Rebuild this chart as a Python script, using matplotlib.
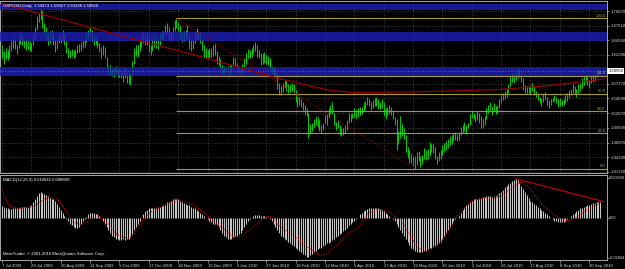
import numpy as np
import matplotlib
matplotlib.use("Agg")
import matplotlib.pyplot as plt

plt.rcParams['font.family'] = ['Liberation Sans', 'DejaVu Sans']

# ---------------- data ----------------
title = "GBPUSD,Daily  1.59473 1.59627 1.59138 1.59550"
macd_title = "MACD(12,26,9) 0.010042 0.008899"
copyright_txt = "MetaTrader, \u00a9 2001-2010 MetaQuotes Software Corp."

date_ticks = list(range(0, 321, 16))
date_labels = ["7 Jul 2009", "29 Jul 2009", "20 Aug 2009", "11 Sep 2009", "5 Oct 2009",
               "27 Oct 2009", "18 Nov 2009", "10 Dec 2009", "5 Jan 2010", "27 Jan 2010",
               "18 Feb 2010", "12 Mar 2010", "5 Apr 2010", "27 Apr 2010", "19 May 2010",
               "10 Jun 2010", "2 Jul 2010", "26 Jul 2010", "17 Aug 2010", "8 Sep 2010",
               "30 Sep 2010"]

price_ticks = [1.70070, 1.67510, 1.64950, 1.62390, 1.59830, 1.57270,
               1.54680, 1.52070, 1.49500, 1.46870, 1.44300, 1.41750]
price_labels = ["1.70070", "1.67510", "1.64950", "1.62390", "", "1.57270",
                "1.54680", "1.52070", "1.49500", "1.46870", "1.44300", "1.41750"]
bid_price = 1.59550
bid_label = "1.59550"

macd_ticks = [0.026599, 0.0, -0.026644]
macd_labels = ["0.026599", "0.00", "-0.02664"]

# daily bar highs / lows (one row per week)
high = [
    1.640, 1.630, 1.636, 1.632,
    1.640, 1.648, 1.652, 1.651, 1.640,
    1.652, 1.662, 1.656, 1.650, 1.650,
    1.650, 1.648, 1.645, 1.660, 1.672,
    1.692, 1.698, 1.704, 1.700, 1.680,
    1.672, 1.662, 1.665, 1.668, 1.660,
    1.650, 1.650, 1.660, 1.660, 1.668,
    1.660, 1.648, 1.636, 1.632, 1.634,
    1.632, 1.634, 1.640, 1.642, 1.646,
    1.650, 1.652, 1.662, 1.668, 1.672,
    1.668, 1.656, 1.655, 1.650, 1.644,
    1.638, 1.640, 1.638, 1.620, 1.604,
    1.605, 1.598, 1.600, 1.604, 1.598,
    1.600, 1.596, 1.594, 1.600, 1.592,
    1.592, 1.590, 1.612, 1.636, 1.640,
    1.640, 1.648, 1.658, 1.664, 1.660,
    1.664, 1.656, 1.640, 1.652, 1.656,
    1.654, 1.650, 1.662, 1.666, 1.666,
    1.676, 1.680, 1.672, 1.664, 1.672,
    1.684, 1.688, 1.682, 1.676, 1.664,
    1.666, 1.668, 1.676, 1.660, 1.650,
    1.650, 1.664, 1.670, 1.666, 1.664,
    1.650, 1.640, 1.636, 1.632, 1.636,
    1.636, 1.640, 1.642, 1.630, 1.622,
    1.616, 1.606, 1.604, 1.602,
    1.604, 1.606, 1.608, 1.620,
    1.618, 1.610, 1.604, 1.600, 1.608,
    1.618, 1.626, 1.634, 1.632, 1.636,
    1.640, 1.646, 1.640, 1.632, 1.626,
    1.626, 1.628, 1.624, 1.622, 1.618,
    1.604, 1.602, 1.602, 1.590, 1.574,
    1.568, 1.574, 1.580, 1.578, 1.572,
    1.572, 1.574, 1.572, 1.562, 1.550,
    1.550, 1.546, 1.540, 1.536, 1.530,
    1.522, 1.502, 1.504, 1.510, 1.516,
    1.514, 1.508, 1.500, 1.504, 1.518,
    1.520, 1.530, 1.536, 1.540, 1.522,
    1.506, 1.508, 1.500, 1.494, 1.494,
    1.500, 1.508, 1.522, 1.520, 1.522,
    1.530, 1.526, 1.530, 1.532, 1.532,
    1.540, 1.542, 1.550, 1.546, 1.540,
    1.544, 1.548, 1.550, 1.546, 1.540,
    1.546, 1.540, 1.530, 1.532, 1.536,
    1.532, 1.526, 1.514, 1.510, 1.490,
    1.516, 1.502, 1.494, 1.482, 1.462,
    1.456, 1.450, 1.446, 1.446, 1.452,
    1.454, 1.446, 1.448, 1.460, 1.456,
    1.458, 1.470, 1.466, 1.466, 1.462,
    1.446, 1.452, 1.456, 1.464, 1.468,
    1.472, 1.476, 1.480, 1.482, 1.486,
    1.488, 1.484, 1.488, 1.496, 1.500,
    1.506, 1.500, 1.504, 1.520, 1.524,
    1.522, 1.518, 1.524, 1.522, 1.516,
    1.510, 1.516, 1.530, 1.536, 1.540,
    1.534, 1.538, 1.534, 1.536, 1.546,
    1.552, 1.556, 1.560, 1.564, 1.572,
    1.586, 1.592, 1.590, 1.592, 1.598,
    1.600, 1.594, 1.582, 1.570, 1.568,
    1.568, 1.568, 1.574, 1.568, 1.560,
    1.556, 1.550, 1.548, 1.554, 1.558,
    1.550, 1.544, 1.546, 1.548, 1.552,
    1.550, 1.546, 1.548, 1.544, 1.546,
    1.552, 1.556, 1.562, 1.564, 1.572,
    1.568, 1.564, 1.572, 1.574, 1.582,
    1.586, 1.590, 1.584, 1.580, 1.588,
    1.588, 1.590, 1.596, 1.598, 1.596,
]
low = [
    1.618, 1.608, 1.616, 1.614,
    1.618, 1.630, 1.636, 1.634, 1.625,
    1.635, 1.643, 1.640, 1.635, 1.632,
    1.634, 1.630, 1.630, 1.640, 1.650,
    1.668, 1.682, 1.684, 1.670, 1.660,
    1.650, 1.640, 1.645, 1.650, 1.640,
    1.628, 1.634, 1.645, 1.645, 1.648,
    1.640, 1.626, 1.618, 1.620, 1.622,
    1.618, 1.620, 1.626, 1.628, 1.630,
    1.636, 1.638, 1.646, 1.652, 1.656,
    1.648, 1.640, 1.640, 1.636, 1.628,
    1.618, 1.624, 1.618, 1.596, 1.588,
    1.588, 1.586, 1.585, 1.590, 1.584,
    1.584, 1.582, 1.576, 1.582, 1.574,
    1.572, 1.570, 1.586, 1.608, 1.622,
    1.620, 1.630, 1.638, 1.644, 1.640,
    1.640, 1.628, 1.624, 1.630, 1.638,
    1.636, 1.634, 1.640, 1.650, 1.652,
    1.660, 1.662, 1.652, 1.648, 1.654,
    1.666, 1.670, 1.666, 1.654, 1.646,
    1.648, 1.652, 1.656, 1.634, 1.630,
    1.634, 1.644, 1.654, 1.650, 1.644,
    1.632, 1.620, 1.618, 1.620, 1.618,
    1.620, 1.622, 1.624, 1.608, 1.606,
    1.598, 1.590, 1.592, 1.594,
    1.592, 1.588, 1.594, 1.604,
    1.604, 1.594, 1.592, 1.588, 1.590,
    1.602, 1.608, 1.618, 1.618, 1.620,
    1.626, 1.630, 1.620, 1.618, 1.606,
    1.608, 1.610, 1.608, 1.606, 1.596,
    1.590, 1.588, 1.582, 1.564, 1.552,
    1.552, 1.558, 1.566, 1.560, 1.556,
    1.558, 1.560, 1.556, 1.540, 1.532,
    1.536, 1.532, 1.526, 1.518, 1.516,
    1.478, 1.486, 1.490, 1.496, 1.500,
    1.496, 1.490, 1.486, 1.492, 1.504,
    1.500, 1.512, 1.520, 1.520, 1.500,
    1.492, 1.494, 1.482, 1.480, 1.482,
    1.486, 1.492, 1.504, 1.506, 1.512,
    1.514, 1.510, 1.514, 1.518, 1.520,
    1.524, 1.528, 1.536, 1.534, 1.526,
    1.530, 1.534, 1.534, 1.528, 1.528,
    1.530, 1.516, 1.510, 1.516, 1.520,
    1.518, 1.510, 1.500, 1.456, 1.466,
    1.478, 1.480, 1.476, 1.452, 1.442,
    1.434, 1.434, 1.428, 1.423, 1.430,
    1.436, 1.426, 1.432, 1.440, 1.438,
    1.440, 1.448, 1.452, 1.450, 1.440,
    1.432, 1.436, 1.440, 1.448, 1.452,
    1.456, 1.460, 1.464, 1.466, 1.474,
    1.474, 1.472, 1.474, 1.482, 1.486,
    1.490, 1.484, 1.494, 1.500, 1.512,
    1.510, 1.506, 1.508, 1.504, 1.494,
    1.494, 1.500, 1.510, 1.522, 1.526,
    1.518, 1.524, 1.520, 1.522, 1.530,
    1.538, 1.544, 1.546, 1.550, 1.556,
    1.568, 1.576, 1.574, 1.580, 1.582,
    1.586, 1.576, 1.562, 1.556, 1.556,
    1.556, 1.554, 1.560, 1.552, 1.550,
    1.544, 1.538, 1.534, 1.540, 1.544,
    1.536, 1.530, 1.536, 1.540, 1.542,
    1.538, 1.532, 1.534, 1.534, 1.536,
    1.538, 1.542, 1.548, 1.552, 1.556,
    1.554, 1.550, 1.556, 1.560, 1.566,
    1.570, 1.576, 1.570, 1.566, 1.574,
    1.576, 1.578, 1.584, 1.588, 1.591,
]

macd = [
    0.0075, 0.007, 0.006, 0.006, 0.0055, 0.0055, 0.006, 0.006, 0.006, 0.0062,
    0.0065, 0.007, 0.0072, 0.0073, 0.0073, 0.0075, 0.008, 0.010, 0.012, 0.014,
    0.016, 0.017, 0.0165, 0.0155, 0.015, 0.014, 0.013, 0.0125, 0.012, 0.011,
    0.009, 0.007, 0.005, 0.003, 0.001, -0.001, -0.002, -0.004, -0.005, -0.006,
    -0.007, -0.007, -0.006, -0.004, -0.002, -0.001, 0.0005, 0.002, 0.003, 0.003,
    0.003, 0.0025, 0.002, 0.001, 0.000, -0.002, -0.004, -0.006, -0.008, -0.010,
    -0.012, -0.013, -0.014, -0.0145, -0.015, -0.015, -0.0145, -0.015, -0.0145, -0.014,
    -0.013, -0.011, -0.008, -0.006, -0.004, -0.002, 0.000, 0.002, 0.004, 0.005,
    0.006, 0.0065, 0.006, 0.006, 0.0065, 0.007, 0.007, 0.0075, 0.008, 0.009,
    0.010, 0.0105, 0.011, 0.012, 0.0125, 0.0125, 0.012, 0.011, 0.010, 0.0095,
    0.009, 0.0085, 0.008, 0.007, 0.0065, 0.006, 0.005, 0.004, 0.003, 0.002,
    0.001, 0.000, -0.001, -0.002, -0.003, -0.004, -0.004, -0.005, -0.006, -0.008,
    -0.010, -0.012, -0.013, -0.014, -0.0145, -0.014, -0.013, -0.012, -0.012, -0.011,
    -0.010, -0.008, -0.006, -0.004, -0.002, -0.001, 0.000, 0.001, 0.0015, 0.0015,
    0.0015, 0.001, 0.001, 0.001, 0.0005, 0.000, -0.001, -0.002, -0.004, -0.006,
    -0.008, -0.010, -0.012, -0.013, -0.014, -0.015, -0.016, -0.017, -0.018, -0.019,
    -0.020, -0.021, -0.022, -0.023, -0.024, -0.025, -0.026, -0.026, -0.025, -0.024,
    -0.023, -0.022, -0.021, -0.020, -0.020, -0.019, -0.018, -0.017, -0.017, -0.016,
    -0.015, -0.014, -0.013, -0.012, -0.011, -0.010, -0.009, -0.008, -0.007, -0.005,
    -0.004, -0.003, -0.002, -0.001, 0.000, 0.002, 0.003, 0.004, 0.005, 0.0055,
    0.006, 0.0065, 0.0065, 0.0065, 0.006, 0.006, 0.0055, 0.005, 0.004, 0.003,
    0.002, 0.001, 0.000, -0.001, -0.002, -0.004, -0.006, -0.008, -0.010, -0.012,
    -0.014, -0.016, -0.018, -0.020, -0.021, -0.022, -0.023, -0.023, -0.023, -0.023,
    -0.0225, -0.022, -0.021, -0.020, -0.020, -0.019, -0.019, -0.018, -0.017, -0.016,
    -0.014, -0.012, -0.010, -0.008, -0.006, -0.004, -0.002, -0.001, 0.000, 0.001,
    0.003, 0.005, 0.006, 0.008, 0.009, 0.010, 0.011, 0.012, 0.012, 0.0125,
    0.013, 0.013, 0.0135, 0.0135, 0.014, 0.014, 0.014, 0.0135, 0.014, 0.014,
    0.015, 0.016, 0.017, 0.018, 0.020, 0.021, 0.022, 0.023, 0.024, 0.025,
    0.0255, 0.025, 0.023, 0.021, 0.019, 0.017, 0.015, 0.013, 0.011, 0.010,
    0.009, 0.008, 0.007, 0.006, 0.005, 0.004, 0.003, 0.002, 0.001, 0.000,
    -0.001, -0.002, -0.002, -0.003, -0.003, -0.003, -0.003, -0.002, -0.001, 0.000,
    0.001, 0.002, 0.003, 0.004, 0.005, 0.006, 0.0065, 0.007, 0.0075, 0.008,
    0.0085, 0.009, 0.0095, 0.0098, 0.010, 0.010, 0.010,
]

signal = [
    0.018, 0.016, 0.013, 0.010, 0.008, 0.0072, 0.0068, 0.0065, 0.0063, 0.0062,
    0.0062, 0.0063, 0.0064, 0.0065, 0.0066, 0.0067, 0.007, 0.0075, 0.008, 0.0088,
    0.0095, 0.0105, 0.0115, 0.012, 0.0125, 0.013, 0.0132, 0.013, 0.0128, 0.0125,
    0.012, 0.011, 0.0095, 0.008, 0.006, 0.004, 0.002, 0.000, -0.0015, -0.003,
    -0.0035, -0.004, -0.0045, -0.0045, -0.004, -0.0035, -0.003, -0.002, -0.001, 0.000,
    0.0005, 0.0008, 0.0008, 0.0006, 0.000, -0.001, -0.002, -0.003, -0.0045, -0.006,
    -0.0075, -0.009, -0.0105, -0.0115, -0.012, -0.0125, -0.013, -0.0135, -0.0135, -0.0135,
    -0.013, -0.012, -0.011, -0.009, -0.007, -0.005, -0.003, -0.001, 0.000, 0.001,
    0.0025, 0.0035, 0.0045, 0.005, 0.0055, 0.006, 0.0065, 0.007, 0.0075, 0.008,
    0.0085, 0.009, 0.0095, 0.010, 0.0105, 0.011, 0.011, 0.011, 0.011, 0.0108,
    0.0105, 0.010, 0.0095, 0.009, 0.0085, 0.008, 0.007, 0.006, 0.005, 0.004,
    0.003, 0.002, 0.001, 0.000, -0.001, -0.002, -0.003, -0.004, -0.005, -0.006,
    -0.007, -0.008, -0.009, -0.010, -0.011, -0.012, -0.0125, -0.013, -0.013, -0.013,
    -0.0125, -0.012, -0.011, -0.010, -0.009, -0.008, -0.007, -0.006, -0.005, -0.004,
    -0.003, -0.002, -0.001, 0.000, 0.0007, 0.0007, 0.0005, 0.000, -0.001, -0.002,
    -0.004, -0.005, -0.006, -0.007, -0.008, -0.009, -0.010, -0.011, -0.012, -0.013,
    -0.0135, -0.014, -0.0145, -0.016, -0.017, -0.018, -0.019, -0.020, -0.021, -0.022,
    -0.023, -0.0235, -0.024, -0.0245, -0.025, -0.025, -0.0245, -0.024, -0.023, -0.022,
    -0.021, -0.020, -0.019, -0.018, -0.017, -0.0155, -0.014, -0.013, -0.0115, -0.010,
    -0.0095, -0.009, -0.0085, -0.008, -0.007, -0.005, -0.003, -0.001, 0.000, 0.002,
    0.003, 0.0035, 0.004, 0.0045, 0.005, 0.005, 0.0052, 0.0052, 0.005, 0.0045,
    0.004, 0.0035, 0.003, 0.002, 0.001, 0.000, -0.001, -0.002, -0.003, -0.005,
    -0.007, -0.009, -0.011, -0.013, -0.015, -0.017, -0.019, -0.020, -0.021, -0.022,
    -0.0225, -0.0225, -0.022, -0.022, -0.021, -0.020, -0.019, -0.018, -0.017, -0.016,
    -0.015, -0.013, -0.011, -0.009, -0.007, -0.005, -0.003, -0.001, 0.001, 0.002,
    0.0035, 0.005, 0.0065, 0.008, 0.009, 0.010, 0.011, 0.0115, 0.012, 0.012,
    0.0122, 0.0125, 0.0127, 0.013, 0.013, 0.013, 0.013, 0.013, 0.0132, 0.0133,
    0.0135, 0.014, 0.0145, 0.015, 0.016, 0.017, 0.018, 0.019, 0.020, 0.021,
    0.0217, 0.0226, 0.0232, 0.0233, 0.0231, 0.0225, 0.0216, 0.0204, 0.0188, 0.0171,
    0.0153, 0.0137, 0.0121, 0.0107, 0.0093, 0.0081, 0.0070, 0.0060, 0.0050, 0.0040,
    0.0030, 0.0020, 0.0011, 0.0002, -0.0006, -0.0012, -0.0018, -0.0021, -0.0022, -0.0021,
    -0.0018, -0.0013, -0.0007, 0.0001, 0.0010, 0.0020, 0.0029, 0.0038, 0.0047, 0.0054,
    0.0062, 0.0068, 0.0074, 0.0080, 0.0085, 0.0087, 0.0089,
]

# chart objects (bar index, price)
bands = [(1.7033, 1.7139), (1.6479, 1.6637), (1.5863, 1.6021)]
fib_levels = [0.0, 23.6, 38.2, 50.0, 61.8, 100.0]
fib_labels = ["0.0", "23.6", "38.2", "50.0", "61.8", "100.0"]
fib_high_bar, fib_high = 95, 1.6877
fib_low_bar, fib_low = 225, 1.4229
red_line_x = [0, 53, 108, 150, 168, 179, 191, 222, 244, 271, 299, 328]
red_line_y = [1.7139, 1.6676, 1.6206, 1.5828, 1.5687, 1.5608, 1.5573, 1.5581,
              1.5599, 1.5625, 1.5696, 1.5810]
macd_trend_x = [280, 328]
macd_trend_y = [0.0258, 0.0106]

assert len(high) == len(low) == len(macd) == len(signal), (len(high), len(low), len(macd), len(signal))

# ---------------- figure ----------------
W, H = 625, 269
fig = plt.figure(figsize=(W / 100, H / 100), dpi=100, facecolor='black')


def rect(x0, y0, x1, y1):
    return [x0 / W, 1 - y1 / H, (x1 - x0) / W, (y1 - y0) / H]


ax = fig.add_axes(rect(0, 1, 607, 173), facecolor='black')
axm = fig.add_axes(rect(0, 175, 607, 260), facecolor='black')

XL = (-1.1, 329.7)
bars = np.arange(len(high))
GRID = '#505050'
AXC = '#a8a8a8'
TXT = '#d8d8d8'
FS = 3.1

# price pane
ax.set_xlim(XL)
ax.set_ylim(1.4156, 1.7183)
for t in date_ticks:
    ax.axvline(t, color=GRID, lw=0.6, ls=(0, (1, 2)), zorder=1)
for p in price_ticks:
    ax.axhline(p, color=GRID, lw=0.6, ls=(0, (1, 2)), zorder=1)

ax.vlines(bars, low, high, colors='#00c800', lw=0.75, zorder=3)
for lo, hi in bands:
    ax.axhspan(lo, hi, color='#1e1eb4', alpha=0.82, lw=0, zorder=4)
ax.axhline(bid_price, color='#7070ff', lw=0.6, ls=(0, (1, 2)), zorder=5)

fib_prices = [fib_low + lv / 100.0 * (fib_high - fib_low) for lv in fib_levels]
ax.hlines(fib_prices, fib_high_bar, XL[1], colors='#a39d26', lw=0.8, zorder=5)
for fp, fl in zip(fib_prices, fib_labels):
    ax.text(XL[1] - 0.8, fp + 0.0012, fl, ha='right', va='bottom', fontsize=FS,
            color='#b0aa30', zorder=6)
ax.plot([fib_high_bar, fib_low_bar], [fib_high, fib_low], color='#a00000', lw=0.8,
        ls=(0, (1, 1.6)), zorder=5)
ax.plot(red_line_x, red_line_y, color='#9a0000', lw=0.9, zorder=5, clip_on=True)

ax.yaxis.tick_right()
ax.set_yticks(price_ticks)
ax.set_yticklabels(price_labels)
ax.tick_params(axis='y', length=1.5, width=0.5, color=AXC, labelcolor=TXT,
               labelsize=FS, pad=1)
ax.tick_params(axis='x', bottom=False, labelbottom=False)
for sp in ax.spines.values():
    sp.set_color(AXC)
    sp.set_linewidth(0.7)

ax.text(1.002, bid_price, bid_label, transform=ax.get_yaxis_transform(), fontsize=FS,
        color='black', va='center', ha='left', clip_on=False, zorder=20,
        bbox=dict(boxstyle='square,pad=0.2', fc='white', ec='none'))

# MACD pane
axm.set_xlim(XL)
axm.set_ylim(-0.0283, 0.0283)
axm.vlines(bars, 0, macd, colors='#c4c4c4', lw=0.75, zorder=3)
axm.plot(bars, signal, color='#e00000', lw=0.8, ls=(0, (1, 1.3)), zorder=4)
axm.plot(macd_trend_x, macd_trend_y, color='#c00000', lw=0.9, zorder=5)
axm.yaxis.tick_right()
axm.set_yticks(macd_ticks)
axm.set_yticklabels(macd_labels)
axm.tick_params(axis='y', length=1.2, width=0.5, color=AXC, labelcolor=TXT,
                labelsize=2.8, pad=0.5)
axm.set_xticks(date_ticks)
axm.set_xticklabels(date_labels, ha='left')
axm.tick_params(axis='x', length=2, width=0.5, color=AXC, labelcolor=TXT,
                labelsize=FS, pad=1)
for sp in axm.spines.values():
    sp.set_color(AXC)
    sp.set_linewidth(0.7)

# texts
fig.text(3 / W, 1 - 6 / H, title, fontsize=FS, color='white', va='center', ha='left')
fig.text(3 / W, 1 - 180 / H, macd_title, fontsize=FS, color='white', va='center', ha='left')
fig.text(3 / W, 1 - 254 / H, copyright_txt, fontsize=FS, color='white', va='center', ha='left')

fig.savefig('out.png', dpi=100, facecolor='black')
